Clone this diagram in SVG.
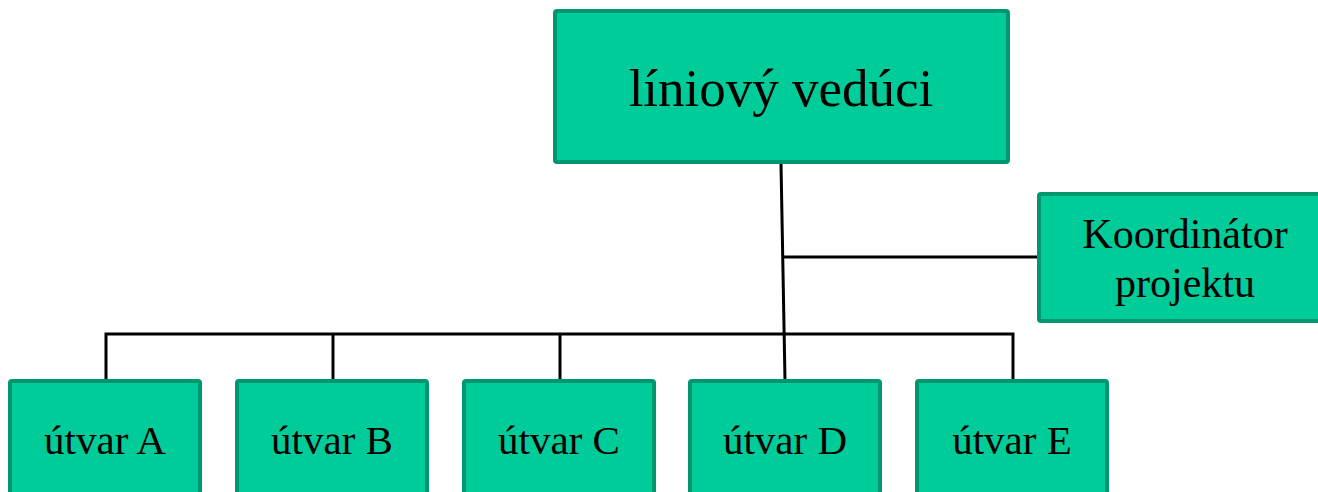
<svg xmlns="http://www.w3.org/2000/svg" width="1318" height="492" viewBox="0 0 1318 492">
  <style>
    .box { fill: #00CC99; stroke: #009670; stroke-width: 4; }
    .lbl { font-family: "Liberation Serif", "Times New Roman", serif; fill: #000; text-anchor: middle; }
    .big { font-size: 53px; }
    .sm { font-size: 41px; }
    .md { font-size: 42px; }
    .wire { stroke: #000; stroke-width: 3; fill: none; }
  </style>
  <rect width="1318" height="492" fill="#fff"/>

  <g id="connectors">
    <path class="wire" d="M781 164 L785 380"/>
    <path class="wire" d="M784 257 H1037"/>
    <path class="wire" d="M106 380 V334 H1013 V380"/>
    <path class="wire" d="M333 334 V380"/>
    <path class="wire" d="M560 334 V380"/>
  </g>

  <g id="liniovy-veduci">
    <rect class="box" x="555" y="11" width="453" height="151" rx="2"/>
    <text class="lbl big" x="781" y="106">líniový vedúci</text>
  </g>

  <g id="koordinator">
    <rect class="box" x="1039" y="194" width="298" height="127" rx="2"/>
    <text class="lbl md" x="1185" y="248">Koordinátor</text>
    <text class="lbl md" x="1185" y="297">projektu</text>
  </g>

  <g id="utvar-a">
    <rect class="box" x="10" y="381" width="190" height="130" rx="2"/>
    <text class="lbl sm" x="105" y="454">útvar A</text>
  </g>
  <g id="utvar-b">
    <rect class="box" x="237" y="381" width="190" height="130" rx="2"/>
    <text class="lbl sm" x="332" y="454">útvar B</text>
  </g>
  <g id="utvar-c">
    <rect class="box" x="464" y="381" width="190" height="130" rx="2"/>
    <text class="lbl sm" x="559" y="454">útvar C</text>
  </g>
  <g id="utvar-d">
    <rect class="box" x="690" y="381" width="190" height="130" rx="2"/>
    <text class="lbl sm" x="785" y="454">útvar D</text>
  </g>
  <g id="utvar-e">
    <rect class="box" x="917" y="381" width="190" height="130" rx="2"/>
    <text class="lbl sm" x="1012" y="454">útvar E</text>
  </g>
</svg>
